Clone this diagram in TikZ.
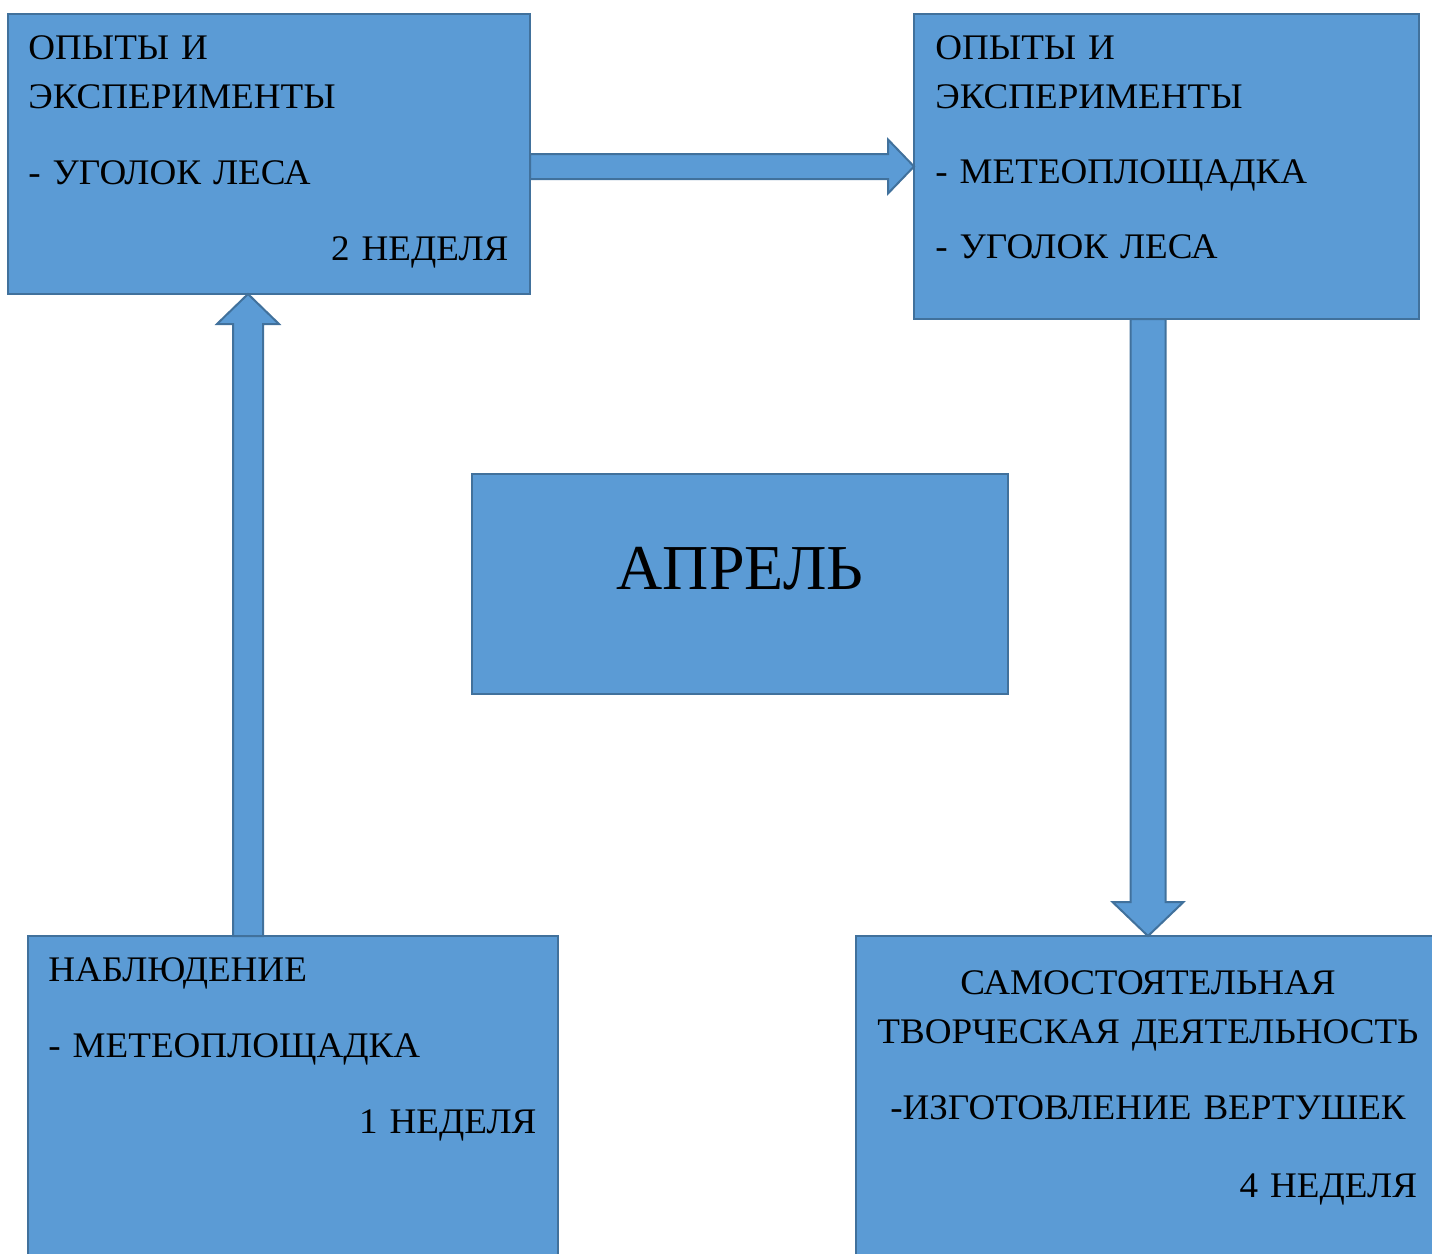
\documentclass[tikz,border=0pt]{standalone}
\usepackage{fontspec}
\setmainfont{Liberation Serif}
\newfontfamily\boxfont[FakeStretch=1.03]{Liberation Serif}
\usetikzlibrary{calc}
\definecolor{boxfill}{HTML}{5B9BD5}
\definecolor{boxline}{HTML}{41719C}
\tikzset{
  box/.style={draw=boxline, fill=boxfill, line width=1pt, inner sep=0pt, outer sep=0pt, anchor=north west},
  txt/.style={inner sep=0pt, font=\boxfont\fontsize{18}{24.5}\selectfont, align=left, text width=#1, anchor=base west},
  blockarrow/.style={draw=boxline, fill=boxfill, line width=1pt, line join=miter}
}

\begin{document}
\begin{tikzpicture}[x=0.5pt,y=-0.5pt]
  \useasboundingbox (0,0) rectangle (1432,1254);
  \clip (0,0) rectangle (1432,1254);

  % the five boxes
  \node[box, minimum width=261pt, minimum height=140pt] (week2) at (8,14) {};
  \node[box, minimum width=252.5pt, minimum height=152.5pt] (week3) at (914,14) {};
  \node[box, minimum width=268pt, minimum height=110pt] (april) at (472,474) {};
  \node[box, minimum width=265pt, minimum height=182pt] (week1) at (28,936) {};
  \node[box, minimum width=292pt, minimum height=182pt] (week4) at (856,936) {};

  % texts
  \node[txt=240pt] (week2text) at ($(week2.north west)+(20,45)$)
    {ОПЫТЫ И\\ЭКСПЕРИМЕНТЫ\\[13.5pt]- УГОЛОК ЛЕСА\\[13.5pt]\hspace*{\fill}2 НЕДЕЛЯ};
  \node[txt=240pt] (week3text) at ($(week3.north west)+(21,45)$)
    {ОПЫТЫ И\\ЭКСПЕРИМЕНТЫ\\[13pt]- МЕТЕОПЛОЩАДКА\\[13pt]- УГОЛОК ЛЕСА};
  \node[txt=244pt] (week1text) at ($(week1.north west)+(20,45)$)
    {НАБЛЮДЕНИЕ\\[13.5pt]- МЕТЕОПЛОЩАДКА\\[13.5pt]\hspace*{\fill}1 НЕДЕЛЯ};
  \node[txt=280pt, align=center, anchor=base] (week4text) at ($(week4.north)+(0,58)$)
    {САМОСТОЯТЕЛЬНАЯ\\ТВОРЧЕСКАЯ ДЕЯТЕЛЬНОСТЬ\\[13.5pt]-ИЗГОТОВЛЕНИЕ ВЕРТУШЕК\\[14.5pt]\hspace*{\fill}4 НЕДЕЛЯ\rule{5.5pt}{0pt}};
  \node[inner sep=0pt, font=\fontsize{32}{38}\selectfont, anchor=base] (apriltext) at ($(april.north)+(0,115)$) {АПРЕЛЬ};

  % block arrows
  \coordinate (rfoot) at (week2.east |- week3.west);
  \draw[blockarrow] ($(rfoot)+(0,-12.5)$) -- ($(week3.west)+(-26,-12.5)$) -- ($(week3.west)+(-26,-27)$)
    -- (week3.west) -- ($(week3.west)+(-26,27)$) -- ($(week3.west)+(-26,12.5)$) -- ($(rfoot)+(0,12.5)$) -- cycle;

  \coordinate (upfoot) at ($(week1.north west)+(220,0)$);
  \coordinate (uptip) at (upfoot |- week2.south);
  \draw[blockarrow] ($(upfoot)+(-15,0)$) -- ($(uptip)+(-15,30)$) -- ($(uptip)+(-31,30)$)
    -- (uptip) -- ($(uptip)+(31,30)$) -- ($(uptip)+(15,30)$) -- ($(upfoot)+(15,0)$) -- cycle;

  \coordinate (dnfoot) at (week4.north |- week3.south);
  \draw[blockarrow] ($(dnfoot)+(-17.5,0)$) -- ($(week4.north)+(-17.5,-34)$) -- ($(week4.north)+(-35.5,-34)$)
    -- (week4.north) -- ($(week4.north)+(35.5,-34)$) -- ($(week4.north)+(17.5,-34)$) -- ($(dnfoot)+(17.5,0)$) -- cycle;
\end{tikzpicture}
\end{document}
